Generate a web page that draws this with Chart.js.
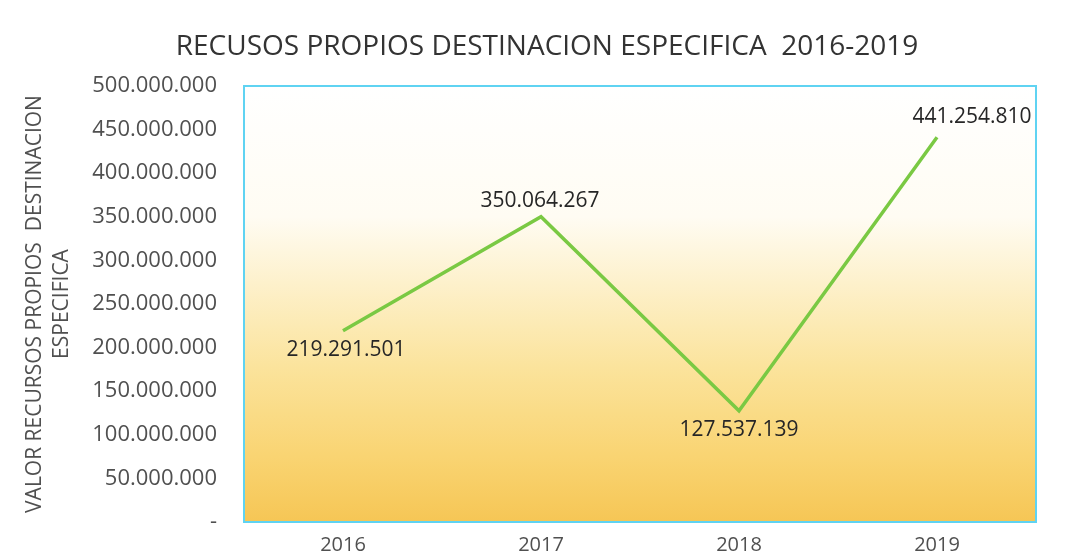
<!DOCTYPE html>
<html>
<head>
<meta charset="utf-8">
<script src="https://cdn.jsdelivr.net/npm/chart.js@4.4.1/dist/chart.umd.min.js"></script>
<style>
  html, body { margin: 0; padding: 0; background: #ffffff; overflow: hidden; }
  canvas { display: block; }
</style>
</head>
<body>
<canvas id="recursosChart" width="1072" height="557"></canvas>
<script>
// datos del grafico
var anios = ['2016', '2017', '2018', '2019'];
var valores = [219291501, 350064267, 127537139, 441254810];
var ejeMin = 0;
var ejeMax = 500000000;
var ejePaso = 50000000;
var titulo = 'RECUSOS PROPIOS DESTINACION ESPECIFICA  2016-2019';

// formato con puntos de miles, el cero se muestra como "-"
function formatoMiles(v) {
    if (v === 0) return '-';
    return Math.round(v).toString().replace(/\B(?=(\d{3})+(?!\d))/g, '.');
}

var fuente = "'Open Sans', 'Liberation Sans', sans-serif";

// fondo degradado, borde cyan del area de trazado y titulo
var fondoPlugin = {
    id: 'fondo',
    beforeDraw: function (chart) {
        var a = chart.chartArea, ctx = chart.ctx;
        var g = ctx.createLinearGradient(0, a.top, 0, a.bottom);
        g.addColorStop(0, '#ffffff');
        g.addColorStop(0.3, '#fffcf3');
        g.addColorStop(0.45, '#fdf1cc');
        g.addColorStop(0.65, '#fbe39b');
        g.addColorStop(0.85, '#f9d472');
        g.addColorStop(1, '#f6c655');
        ctx.save();
        ctx.fillStyle = g;
        ctx.fillRect(a.left, a.top, a.right - a.left, a.bottom - a.top);
        // titulo centrado sobre el grafico
        ctx.font = "28px " + fuente;
        ctx.fillStyle = '#333333';
        ctx.textAlign = 'center';
        ctx.textBaseline = 'middle';
        ctx.fillText(titulo, 547, 47);
        ctx.restore();
    },
    afterDatasetsDraw: function (chart) {
        var a = chart.chartArea, ctx = chart.ctx;
        ctx.save();
        ctx.strokeStyle = '#5fd3f2';
        ctx.lineWidth = 2;
        ctx.strokeRect(a.left, a.top, a.right - a.left, a.bottom - a.top);
        ctx.restore();
    }
};

// etiquetas de valores: desplazamiento [dx, dy] respecto al punto
var despEtiquetas = [[3, 19], [-1, -16], [0, 19], [35, -20]];
var etiquetasPlugin = {
    id: 'etiquetas',
    afterDatasetsDraw: function (chart) {
        var ctx = chart.ctx;
        var meta = chart.getDatasetMeta(0);
        ctx.save();
        ctx.font = "21px " + fuente;
        ctx.fillStyle = '#262626';
        ctx.textAlign = 'center';
        ctx.textBaseline = 'middle';
        meta.data.forEach(function (pt, i) {
            var d = despEtiquetas[i];
            ctx.fillText(formatoMiles(chart.data.datasets[0].data[i]), pt.x + d[0], pt.y + d[1]);
        });
        ctx.restore();
    }
};

var ctx = document.getElementById('recursosChart').getContext('2d');
var grafico = new Chart(ctx, {
    type: 'line',
    data: {
        labels: anios,
        datasets: [{
            label: 'Recursos propios',
            data: valores,
            borderColor: '#7ac943',
            borderWidth: 3.5,
            pointRadius: 0,
            tension: 0,
            fill: false
        }]
    },
    options: {
        responsive: false,
        animation: false,
        devicePixelRatio: 1,
        layout: { padding: { top: 86, right: 36, bottom: 0, left: 0 } },
        plugins: {
            legend: { display: false },
            tooltip: { enabled: false },
            title: { display: false }
        },
        scales: {
            x: {
                offset: true,
                grid: { display: false, drawTicks: false },
                border: { display: false },
                afterFit: function (s) { s.height = 35; },
                ticks: {
                    color: '#505050',
                    font: { family: fuente, size: 20 },
                    padding: 11
                }
            },
            y: {
                min: ejeMin,
                max: ejeMax,
                grid: { display: false, drawTicks: false },
                border: { display: false },
                afterFit: function (s) {
                    s.width = 244;
                    s.paddingTop = 0;
                    s.paddingBottom = 0;
                },
                ticks: {
                    stepSize: ejePaso,
                    color: '#505050',
                    font: { family: fuente, size: 22 },
                    padding: 27,
                    callback: function (v) { return formatoMiles(v); }
                },
                title: {
                    display: true,
                    text: ['VALOR RECURSOS PROPIOS  DESTINACION', 'ESPECIFICA'],
                    color: '#505050',
                    font: { family: fuente, size: 21, lineHeight: 1.3 },
                    padding: { top: 21, bottom: 0 }
                }
            }
        }
    },
    plugins: [fondoPlugin, etiquetasPlugin]
});
</script>
</body>
</html>
